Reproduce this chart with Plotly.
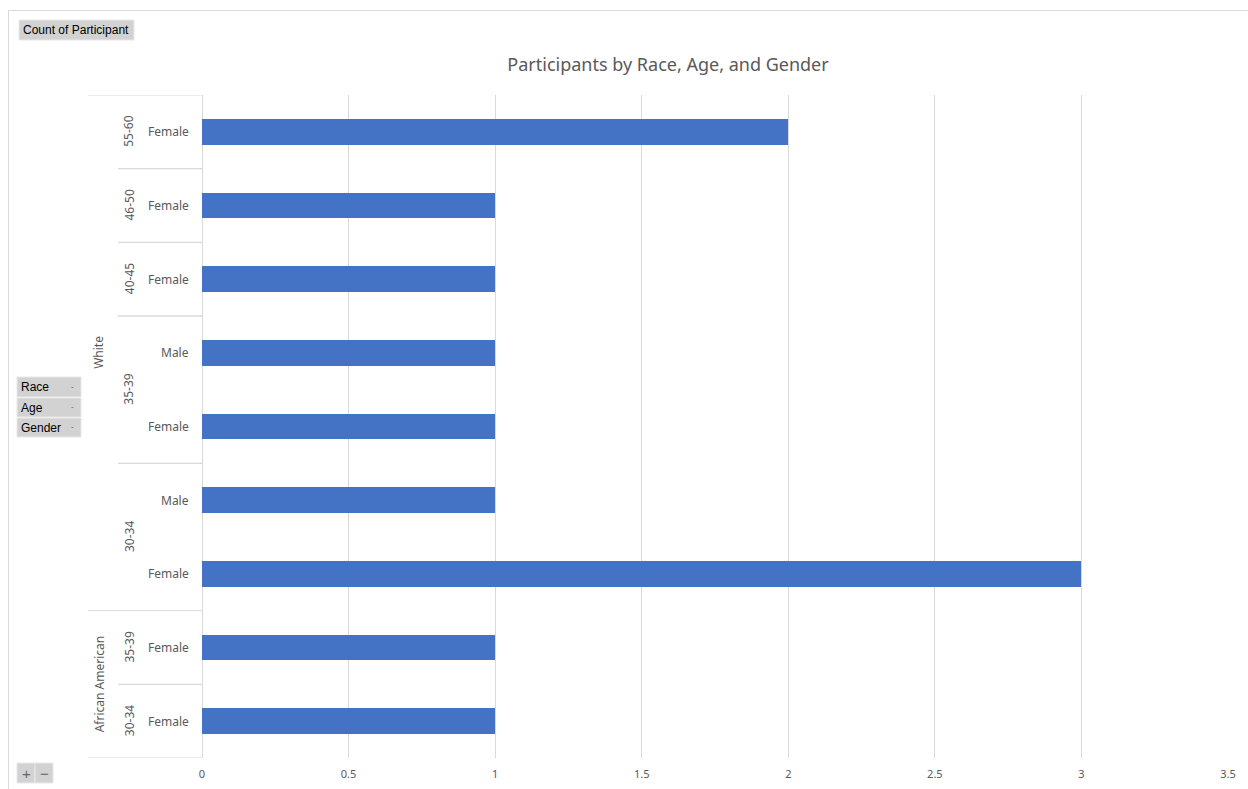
import plotly.graph_objects as go

# Data (bottom to top)
races = ["African American", "African American", "White", "White", "White", "White", "White", "White", "White"]
ages = ["30-34", "35-39", "30-34", "30-34", "35-39", "35-39", "40-45", "46-50", "55-60"]
genders = ["Female", "Female", "Female", "Male", "Female", "Male", "Female", "Female", "Female"]
counts = [1, 1, 3, 1, 1, 1, 1, 1, 2]
x_ticks = [0, 0.5, 1, 1.5, 2, 2.5, 3, 3.5]

W, H = 1248, 789
L, R, T, B = 202, 20, 95, 31
PW = W - L - R
PH = H - T - B

def px(x):
    return (x - L) / PW

def py(y):
    return 1 - (y - T) / PH

keys = [f"{r}|{a}|{g}" for r, a, g in zip(races, ages, genders)]
idx = list(range(len(keys)))

FONT = "Noto Sans"
TXT = "#595959"
LINE = "#d9d9d9"

fig = go.Figure(go.Bar(
    x=counts, y=idx, orientation="h",
    marker=dict(color="#4472C4", line=dict(width=0)),
    width=0.35, hoverinfo="x",
))

annotations = []
shapes = []

# Gender labels
for i, g in zip(idx, genders):
    annotations.append(dict(x=px(191), y=i, xref="paper", yref="y", text=g,
                            showarrow=False, xanchor="right", yanchor="middle",
                            font=dict(family=FONT, size=12, color=TXT)))

def groups(levels):
    out = []
    start = 0
    for i in range(1, len(levels) + 1):
        if i == len(levels) or levels[i] != levels[start]:
            out.append((levels[start], start, i - 1))
            start = i
    return out

# Age groups (within race)
race_age = [f"{r}|{a}" for r, a in zip(races, ages)]
age_groups = groups(race_age)
for key, s, e in age_groups:
    annotations.append(dict(x=px(129), y=(s + e) / 2, xref="paper", yref="y",
                            text=key.split("|")[1], textangle=-90, showarrow=False,
                            xanchor="center", yanchor="middle",
                            font=dict(family=FONT, size=12, color=TXT)))
race_groups = groups(races)
for r, s, e in race_groups:
    annotations.append(dict(x=px(99), y=(s + e) / 2, xref="paper", yref="y",
                            text=r, textangle=-90, showarrow=False,
                            xanchor="center", yanchor="middle",
                            font=dict(family=FONT, size=12, color=TXT)))

# separators
race_bounds = set()
for r, s, e in race_groups:
    race_bounds.add(s - 0.5)
    race_bounds.add(e + 0.5)
for b in sorted(race_bounds):
    shapes.append(dict(type="line", xref="paper", yref="y", x0=px(88), x1=px(202),
                       y0=b, y1=b, line=dict(color=LINE, width=1)))
for key, s, e in age_groups:
    for b in (s - 0.5, e + 0.5):
        if b not in race_bounds:
            shapes.append(dict(type="line", xref="paper", yref="y", x0=px(118), x1=px(202),
                               y0=b, y1=b, line=dict(color=LINE, width=1)))

# Outer frame lines
shapes.append(dict(type="line", xref="paper", yref="paper", x0=px(8), x1=px(1248),
                   y0=py(10.5), y1=py(10.5), line=dict(color="#d9d9d9", width=1)))
shapes.append(dict(type="line", xref="paper", yref="paper", x0=px(8.5), x1=px(8.5),
                   y0=py(10.5), y1=py(789), line=dict(color="#d9d9d9", width=1)))

BTN_FONT = "Liberation Sans"

# Pivot field buttons
def button(x0, y0, x1, y1, text, arrow=False, size=12):
    shapes.append(dict(type="rect", xref="paper", yref="paper", x0=px(x0), x1=px(x1),
                       y0=py(y0), y1=py(y1), line=dict(color="#e8e8e8", width=1),
                       fillcolor="#d2d2d2", layer="above"))
    annotations.append(dict(x=px(x0 + 2), y=py((y0 + y1) / 2), xref="paper", yref="paper",
                            text=text, showarrow=False, xanchor="left", yanchor="middle",
                            font=dict(family=BTN_FONT, size=size, color="#000000")))
    if arrow:
        annotations.append(dict(x=px(x1 - 9), y=py((y0 + y1) / 2 - 1), xref="paper", yref="paper",
                                text="-", showarrow=False, xanchor="center", yanchor="middle",
                                font=dict(family=BTN_FONT, size=8, color="#555555")))

button(19, 20, 134, 40, "Count of Participant")
button(17, 377, 81, 397, "Race", arrow=True)
button(17, 398, 81, 417, "Age", arrow=True)
button(17, 418, 81, 437, "Gender", arrow=True)
# +/- buttons
for bx0, bx1, sym in ((17, 35, "+"), (35, 53, "−")):
    shapes.append(dict(type="rect", xref="paper", yref="paper", x0=px(bx0), x1=px(bx1),
                       y0=py(763), y1=py(783), line=dict(color="#e8e8e8", width=1),
                       fillcolor="#d2d2d2", layer="above"))
    annotations.append(dict(x=px((bx0 + bx1) / 2), y=py(773), xref="paper", yref="paper",
                            text=sym, showarrow=False, xanchor="center", yanchor="middle",
                            font=dict(family=BTN_FONT, size=15, color="#666666")))

fig.update_layout(
    width=W, height=H,
    margin=dict(l=L, r=R, t=T, b=B, autoexpand=False),
    paper_bgcolor="white", plot_bgcolor="white",
    title=dict(text="Participants by Race, Age, and Gender", x=668 / W, xanchor="center",
               y=1 - 65 / H, yanchor="middle",
               font=dict(family=FONT, size=18, color=TXT)),
    xaxis=dict(range=[0, 3.5], tickvals=x_ticks, ticktext=[f"{v:g}" for v in x_ticks],
               showgrid=True, gridcolor=LINE, gridwidth=1, zeroline=True,
               zerolinecolor=LINE, zerolinewidth=1, showline=False,
               ticks="outside", ticklen=6, tickcolor="rgba(0,0,0,0)", automargin=False,
               tickfont=dict(family=FONT, size=11, color=TXT), fixedrange=True),
    yaxis=dict(range=[-0.5, len(keys) - 0.5], showticklabels=False, showgrid=False,
               zeroline=False, showline=False, ticks="", fixedrange=True, automargin=False),
    annotations=annotations, shapes=shapes,
    showlegend=False, bargap=0,
)

fig.write_html("out.html", config={"displayModeBar": False})
